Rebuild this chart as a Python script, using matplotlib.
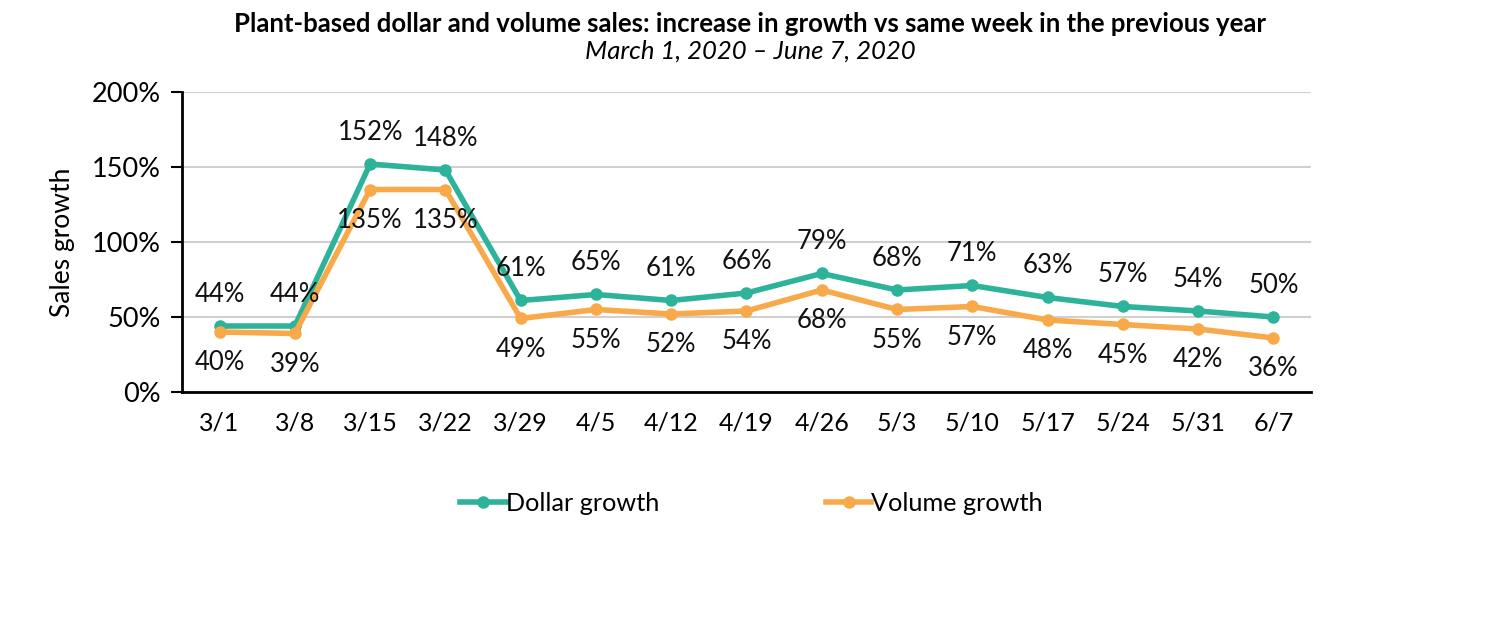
import matplotlib.pyplot as plt
from matplotlib.ticker import FuncFormatter

plt.rcParams['font.family'] = ['Lato', 'DejaVu Sans']

weeks = ['3/1', '3/8', '3/15', '3/22', '3/29', '4/5', '4/12', '4/19', '4/26',
         '5/3', '5/10', '5/17', '5/24', '5/31', '6/7']
dollar_growth = [44, 44, 152, 148, 61, 65, 61, 66, 79, 68, 71, 63, 57, 54, 50]
volume_growth = [40, 39, 135, 135, 49, 55, 52, 54, 68, 55, 57, 48, 45, 42, 36]

teal = '#2DB39A'
orange = '#F8A94A'

fig = plt.figure(figsize=(15, 6.28), dpi=100)
ax = fig.add_axes([0.1213, 0.3758, 0.7527, 0.4777])

x = range(len(weeks))
ax.plot(x, dollar_growth, color=teal, lw=4, marker='o', ms=8, label='Dollar growth', zorder=3)
ax.plot(x, volume_growth, color=orange, lw=4, marker='o', ms=8, label='Volume growth', zorder=3)

for i, (d, v) in enumerate(zip(dollar_growth, volume_growth)):
    ax.annotate(f'{d}%', (i, d), xytext=(0, 23), textcoords='offset points',
                ha='center', va='center', fontsize=18.5, color='#111111')
    ax.annotate(f'{v}%', (i, v), xytext=(0, -22), textcoords='offset points',
                ha='center', va='center', fontsize=18.5, color='#111111')

ax.set_xlim(-0.5, len(weeks) - 0.5)
ax.set_ylim(0, 200)
ax.set_yticks([0, 50, 100, 150, 200])
ax.yaxis.set_major_formatter(FuncFormatter(lambda val, pos: f'{val:.0f}%'))
ax.set_xticks(list(x))
ax.set_xticklabels(weeks)
ax.tick_params(axis='x', length=0, pad=14, labelsize=18)
ax.tick_params(axis='y', length=8, width=1.5, pad=7, labelsize=19.5)
ax.grid(axis='y', color='#D0D0D0', lw=1.5)
ax.set_axisbelow(True)

for s in ['top', 'right']:
    ax.spines[s].set_visible(False)
ax.spines['left'].set_linewidth(2)
ax.spines['bottom'].set_linewidth(2)

ax.set_ylabel('Sales growth', fontsize=19, labelpad=12)

fig.text(0.5, 0.962, 'Plant-based dollar and volume sales: increase in growth vs same week in the previous year',
         ha='center', va='center', fontsize=18.5, fontweight='bold')
fig.text(0.5, 0.918, 'March 1, 2020 \u2013 June 7, 2020', ha='center', va='center',
         fontsize=18.5, style='italic')

fig.legend(loc='center', bbox_to_anchor=(0.501, 0.198), ncol=2, frameon=False,
           fontsize=18.2, columnspacing=6.6, handlelength=1.8, handletextpad=0.0)

fig.savefig('out.png', dpi=100)
